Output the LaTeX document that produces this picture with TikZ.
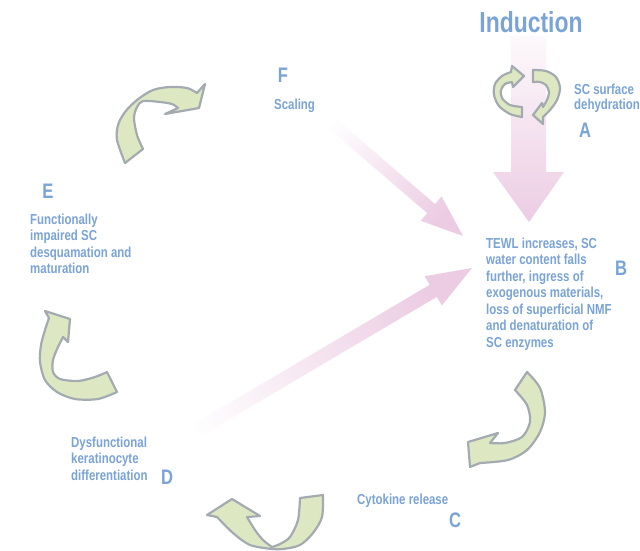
\documentclass[tikz,border=0pt]{standalone}
\usepackage{fontspec}
\setmainfont{Liberation Sans}[FakeStretch=0.79]
\usetikzlibrary{calc}
\definecolor{txtblue}{RGB}{122,163,214}
\definecolor{pinkA}{RGB}{236,204,227}
\definecolor{greenfill}{RGB}{221,232,194}
\definecolor{grayline}{RGB}{163,171,177}
\tikzset{
  lbl/.style={text=txtblue, font=\bfseries\fontsize{14.5}{16.5}\selectfont, inner sep=0pt, align=left},
  letter/.style={text=txtblue, font=\bfseries\fontsize{21}{21}\selectfont, inner sep=0pt},
  garrow/.style={fill=greenfill, draw=grayline, line width=2.2pt, line join=round},
}
\begin{document}
\begin{tikzpicture}[x=1pt,y=-1pt]
\fill[white] (0,0) rectangle (640,550);
\useasboundingbox (0,0) rectangle (640,550);

% big induction arrow
\shade[top color=pinkA!12, bottom color=pinkA]
  (511,36) -- (546,36) -- (546,172) -- (564,172) -- (529,222) -- (493,172) -- (511,172) -- cycle;

% F -> B arrow
\coordinate (fT) at (313,107);
\coordinate (fH) at (463,236);
\coordinate (fB) at ($(fH)!42pt!(fT)$);
\shade[top color=white, bottom color=pinkA, shading angle=49]
  ($(fT)!6pt!90:(fH)$) -- ($(fB)!6pt!90:(fH)$) -- ($(fB)!16pt!90:(fH)$) -- (fH)
  -- ($(fB)!16pt!-90:(fH)$) -- ($(fB)!6pt!-90:(fH)$) -- ($(fT)!6pt!-90:(fH)$) -- cycle;

% D -> B arrow
\coordinate (dT) at (155,455);
\coordinate (dH) at (472,268);
\coordinate (dB) at ($(dH)!45pt!(dT)$);
\shade[top color=white, bottom color=pinkA, shading angle=120]
  ($(dT)!7pt!90:(dH)$) -- ($(dB)!7pt!90:(dH)$) -- ($(dB)!17pt!90:(dH)$) -- (dH)
  -- ($(dB)!17pt!-90:(dH)$) -- ($(dB)!7pt!-90:(dH)$) -- ($(dT)!7pt!-90:(dH)$) -- cycle;

% cyclic arrows at A
\path[garrow] plot[smooth] coordinates {(522,117) (510,114) (499,106) (494,95) (495,84) (502,76) (511,72)}
  -- (512,66) -- (524,76) -- (513,87) -- (512,82)
  -- plot[smooth] coordinates {(512,82) (505,84) (501,90) (502,98) (510,105) (522,107)} -- cycle;
\path[garrow] plot[smooth] coordinates {(533,70) (546,71) (556,77) (560,88) (557,100) (550,110) (543,117)}
  -- (543,124) -- (533,115) -- (542,103) -- (543,107)
  -- plot[smooth] coordinates {(543,107) (547,100) (549,92) (546,85) (540,82) (533,82)} -- cycle;

% E -> F arrow (top left)
\path[garrow] plot[smooth] coordinates {(125,163) (117,140) (118,125) (125,112) (137,100) (153,90) (170,87) (187,88) (197,93)}
  -- (205,84) -- (199,108) -- (165,114) -- (178,108)
  -- plot[smooth] coordinates {(178,108) (172,104) (160,102) (143,101) (137,107) (134,118) (137,135) (143,149)} -- cycle;

% B -> C arrow
\path[garrow] plot[smooth] coordinates {(527,372) (540,388) (545,412) (540,432) (527,450) (508,460) (480,463)}
  -- (470,467) -- (468,442) -- (498,433) -- (490,443)
  -- plot[smooth] coordinates {(490,443) (505,443) (522,437) (530,422) (527,405) (515,390)} -- cycle;

% C -> D arrow (bottom)
\path[garrow] (300,498) -- plot[smooth] coordinates {(323,495) (322,517) (313,533) (300,545) (283,549) (272,549)}
  -- plot[smooth] coordinates {(272,549) (250,545) (233,533) (217,517)}
  -- (207,515) -- (232,499) -- (260,516) -- (247,517)
  -- plot[smooth] coordinates {(247,517) (255,530) (263,540) (272,547)}
  -- plot[smooth] coordinates {(272,547) (280,544) (290,537) (298,520) (300,498)} -- cycle;

% D -> E arrow (left)
\path[garrow] (107,372) -- plot[smooth] coordinates {(117,392) (98,399) (75,399) (57,392) (45,380) (40,362) (41,345) (45,330) (49,318)}
  -- (45,311) -- (70,319) -- (68,342) -- (63,337)
  -- plot[smooth] coordinates {(63,337) (58,347) (53,360) (53,372) (60,379) (78,381) (95,377) (107,372)} -- cycle;

% texts
\node[text=txtblue, font=\bfseries\fontsize{29}{29}\selectfont, inner sep=0pt, anchor=base] (induct) at (531,32) {Induction};
\node[lbl, anchor=north west, font=\bfseries\fontsize{14.5}{15.5}\selectfont] (txtA) at (574,83.5) {SC surface\\dehydration};
\node[letter] (labA) at (585,130) {A};
\node[lbl, anchor=north west] (txtB) at (486,237.5) {TEWL increases, SC\\water content falls\\further, ingress of\\exogenous materials,\\loss of superficial NMF\\and denaturation of\\SC enzymes};
\node[letter] (labB) at (621,268) {B};
\node[lbl, anchor=base west] (txtC) at (357,504) {Cytokine release};
\node[letter] (labC) at (455,520) {C};
\node[lbl, anchor=north west] (txtD) at (71,436.5) {Dysfunctional\\keratinocyte\\differentiation};
\node[letter] (labD) at (167,477) {D};
\node[letter] (labE) at (48,191) {E};
\node[lbl, anchor=north west] (txtE) at (30,213.5) {Functionally\\impaired SC\\desquamation and\\maturation};
\node[letter] (labF) at (283,75) {F};
\node[lbl, anchor=base west] (txtF) at (274,109) {Scaling};
\end{tikzpicture}
\end{document}
